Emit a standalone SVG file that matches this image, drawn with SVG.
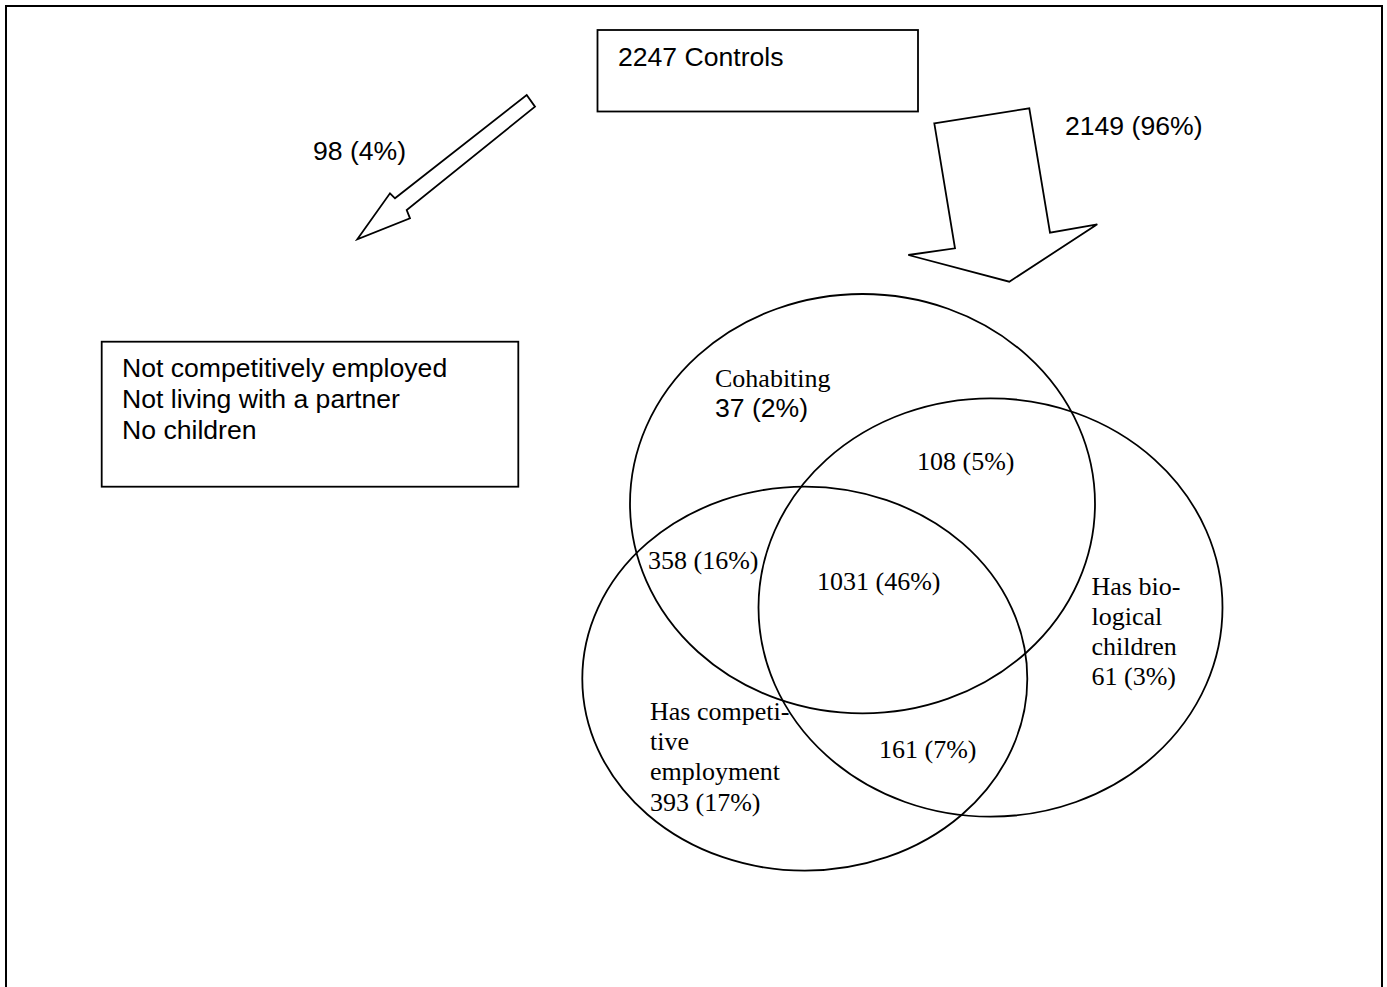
<svg xmlns="http://www.w3.org/2000/svg" width="1387" height="987" viewBox="0 0 1387 987">
<style>
.ln{fill:none;stroke:#000;stroke-width:1.8}
.box{fill:#fff;stroke:#000;stroke-width:1.8}
.ar{fill:#fff;stroke:#000;stroke-width:1.8;stroke-linejoin:miter}
.sans{font-family:"Liberation Sans",Arial,sans-serif;font-size:26.6px;fill:#000}
.serif{font-family:"Liberation Serif","Times New Roman",serif;font-size:26px;fill:#000}
</style>
<rect x="0" y="0" width="1387" height="987" fill="#fff"/>
<rect id="frame" x="6" y="6" width="1376" height="1010" fill="none" stroke="#000" stroke-width="2"/>
<g id="connectors">
<polygon class="ar" points="526.7,95 535,106.7 406.7,210 410,218.3 357.3,239.3 390,193.3 395,198.3"/>
<polygon class="ar" points="934.3,123.3 1029.3,108.3 1050,232.7 1097.3,224.3 1009.3,281.7 908.3,255 955,248.3"/>
<text class="sans" x="313" y="160">98 (4%)</text>
<text class="sans" x="1065" y="135">2149 (96%)</text>
</g>
<g id="controls">
<rect class="box" x="597.5" y="30" width="320.5" height="81.5"/>
<text class="sans" x="618" y="65.5">2247 Controls</text>
</g>
<g id="none-box">
<rect class="box" x="101.7" y="341.7" width="416.6" height="145"/>
<text class="sans" x="122" y="377">Not competitively employed</text>
<text class="sans" x="122" y="408">Not living with a partner</text>
<text class="sans" x="122" y="439">No children</text>
</g>
<g id="venn">
<ellipse id="cohabiting" class="ln" cx="862.5" cy="503.7" rx="232.5" ry="209.7"/>
<ellipse id="children" class="ln" cx="990.5" cy="607.5" rx="232" ry="209.2"/>
<ellipse id="employment" class="ln" cx="804.8" cy="678.7" rx="222.5" ry="192"/>
</g>
<g id="labels">
<text class="serif" x="715" y="386.5">Cohabiting</text>
<text class="sans" x="715" y="416.5">37 (2%)</text>
<text class="serif" x="917" y="469.5">108 (5%)</text>
<text class="serif" x="648" y="568.5">358 (16%)</text>
<text class="serif" x="817" y="590">1031 (46%)</text>
<text class="serif" x="1091.5" y="595">Has bio-</text>
<text class="serif" x="1091.5" y="625">logical</text>
<text class="serif" x="1091.5" y="655">children</text>
<text class="serif" x="1091.5" y="685">61 (3%)</text>
<text class="serif" x="650" y="720">Has competi-</text>
<text class="serif" x="650" y="750">tive</text>
<text class="serif" x="650" y="780">employment</text>
<text class="serif" x="650" y="811">393 (17%)</text>
<text class="serif" x="879" y="758">161 (7%)</text>
</g>
</svg>
